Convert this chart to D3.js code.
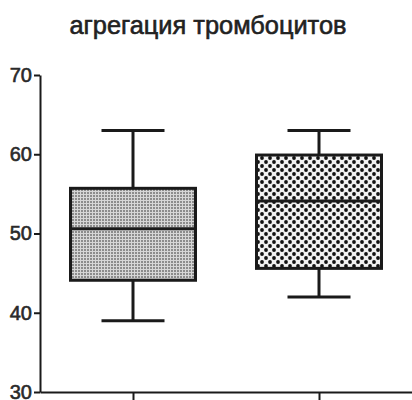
<!DOCTYPE html>
<html>
<head>
<meta charset="utf-8">
<script src="https://cdn.jsdelivr.net/npm/d3@7"></script>
<style>
  html, body { margin: 0; padding: 0; background: #fff; }
  svg { display: block; }
</style>
</head>
<body>
<svg id="chart" width="412" height="400"></svg>
<script>
// Box-and-whisker summary for two groups
const categories = ["группа 1", "группа 2"];
const whiskerMin = [39, 42];
const quartile1  = [44.1, 45.6];
const medians    = [50.6, 54.1];
const quartile3  = [55.7, 59.9];
const whiskerMax = [63, 63];
const yTicks     = [30, 40, 50, 60, 70];
const title      = "агрегация тромбоцитов";

const svg = d3.select("#chart");
const font = "'Liberation Sans Narrow', 'Liberation Sans', Arial, sans-serif";
const ink = "#1a1a1a";

const y = d3.scaleLinear().domain([30, 70]).range([392, 75]);
const x = d3.scalePoint().domain(categories).range([40, 412]).padding(0.5);

const boxW = 125, capW = 63;

// fill patterns
const defs = svg.append("defs");
const p1 = defs.append("pattern").attr("id", "fine").attr("patternUnits", "userSpaceOnUse")
  .attr("width", 3).attr("height", 3);
p1.append("rect").attr("width", 3).attr("height", 3).attr("fill", "#d6d6d6");
p1.append("rect").attr("width", 2).attr("height", 2).attr("fill", "#8c8c8c");

const p2 = defs.append("pattern").attr("id", "coarse").attr("patternUnits", "userSpaceOnUse")
  .attr("width", 8).attr("height", 8);
p2.append("rect").attr("width", 8).attr("height", 8).attr("fill", "#f2f2f2");
p2.append("circle").attr("cx", 2).attr("cy", 2).attr("r", 1.9).attr("fill", "#111");
p2.append("circle").attr("cx", 6).attr("cy", 6).attr("r", 1.9).attr("fill", "#111");
const fills = ["url(#fine)", "url(#coarse)"];

// title
svg.append("text")
  .attr("x", 208).attr("y", 34)
  .attr("text-anchor", "middle")
  .attr("font-family", font)
  .attr("font-size", 26)
  .attr("fill", "#222")
  .attr("stroke", "#222")
  .attr("stroke-width", 0.6)
  .attr("textLength", 277)
  .attr("lengthAdjust", "spacingAndGlyphs")
  .text(title);

// y axis
const yAxis = svg.append("g")
  .attr("transform", "translate(40,0)")
  .call(d3.axisLeft(y).tickValues(yTicks).tickSize(6).tickPadding(2).tickSizeOuter(0));
yAxis.select(".domain").attr("stroke", ink).attr("stroke-width", 2);
yAxis.selectAll(".tick line").attr("stroke", ink).attr("stroke-width", 2);
yAxis.selectAll(".tick text")
  .attr("font-family", font).attr("font-size", 20)
  .attr("fill", "#2a2a2a").attr("stroke", "#2a2a2a").attr("stroke-width", 0.6);

// x axis
const xAxis = svg.append("g")
  .attr("transform", `translate(0,${y(30)})`)
  .call(d3.axisBottom(x).tickSize(8).tickFormat(() => "").tickSizeOuter(0));
xAxis.select(".domain").attr("stroke", ink).attr("stroke-width", 2);
xAxis.selectAll(".tick line").attr("stroke", ink).attr("stroke-width", 2);

// boxes
const groups = svg.append("g").selectAll("g")
  .data(categories.map((c, i) => ({ c, i })))
  .join("g");

groups.append("line")
  .attr("x1", d => x(d.c)).attr("x2", d => x(d.c))
  .attr("y1", d => y(whiskerMax[d.i])).attr("y2", d => y(whiskerMin[d.i]))
  .attr("stroke", ink).attr("stroke-width", 3);

groups.append("line")
  .attr("x1", d => x(d.c) - capW / 2).attr("x2", d => x(d.c) + capW / 2)
  .attr("y1", d => y(whiskerMax[d.i])).attr("y2", d => y(whiskerMax[d.i]))
  .attr("stroke", ink).attr("stroke-width", 3);

groups.append("line")
  .attr("x1", d => x(d.c) - capW / 2).attr("x2", d => x(d.c) + capW / 2)
  .attr("y1", d => y(whiskerMin[d.i])).attr("y2", d => y(whiskerMin[d.i]))
  .attr("stroke", ink).attr("stroke-width", 3);

groups.append("rect")
  .attr("x", d => x(d.c) - boxW / 2).attr("width", boxW)
  .attr("y", d => y(quartile3[d.i]))
  .attr("height", d => y(quartile1[d.i]) - y(quartile3[d.i]))
  .attr("fill", d => fills[d.i])
  .attr("stroke", ink).attr("stroke-width", 3);

groups.append("line")
  .attr("x1", d => x(d.c) - boxW / 2).attr("x2", d => x(d.c) + boxW / 2)
  .attr("y1", d => y(medians[d.i])).attr("y2", d => y(medians[d.i]))
  .attr("stroke", ink).attr("stroke-width", 3);
</script>
</body>
</html>
